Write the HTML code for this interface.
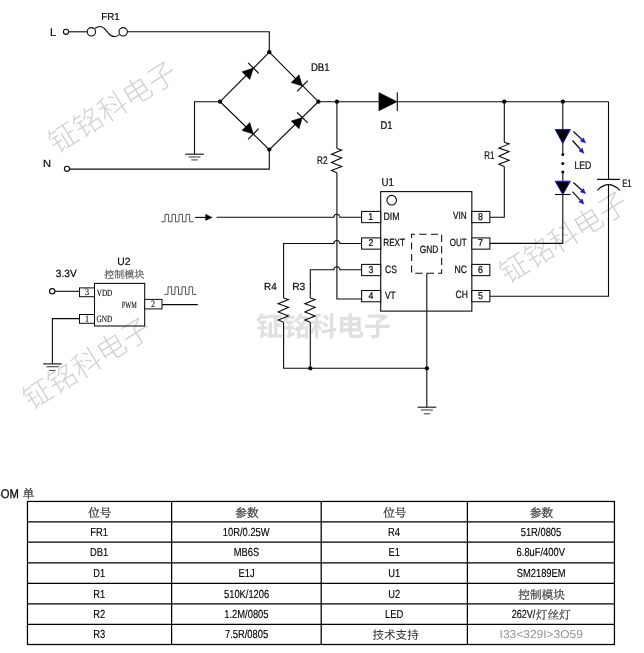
<!DOCTYPE html>
<html><head><meta charset="utf-8"><title>circuit</title>
<style>html,body{margin:0;padding:0;background:#fff;overflow:hidden;}svg{display:block;will-change:transform;}text{font-kerning:none;text-rendering:geometricPrecision;}</style>
</head><body>
<svg width="644" height="653" viewBox="0 0 644 653">
<rect width="644" height="653" fill="#fff"/>
<text transform="translate(111.7,107.65) rotate(-31.8) translate(-71.5,10.26)" font-family="'Liberation Sans','Noto Sans CJK SC',sans-serif" font-size="29" font-weight="300" fill="#d3d3d3">钲铭科电子</text>
<text transform="translate(86,364) rotate(-31.8) translate(-71.5,10.26)" font-family="'Liberation Sans','Noto Sans CJK SC',sans-serif" font-size="29" font-weight="300" fill="#d3d3d3">钲铭科电子</text>
<text transform="translate(562.7,238.1) rotate(-31.8) translate(-71.5,10.26)" font-family="'Liberation Sans','Noto Sans CJK SC',sans-serif" font-size="29" font-weight="300" fill="#d3d3d3">钲铭科电子</text>
<text transform="translate(255.95,335.9)" font-family="'Liberation Sans','Noto Sans CJK SC',sans-serif" font-size="27" font-weight="bold" fill="#e0e0e0">钲铭科电子</text>
<text transform="translate(49.99,35.8) scale(1.0103,1)" font-family="'Liberation Sans'" font-size="11" fill="#0a0a0a" stroke="#0a0a0a" stroke-width="0.22" >L</text>
<circle cx="66" cy="31.8" r="2.6" fill="none" stroke="#0a0a0a" stroke-width="1.1"/>
<line x1="68.6" y1="31.8" x2="87.2" y2="31.8" stroke="#0a0a0a" stroke-width="1.1" />
<circle cx="91.4" cy="31.8" r="4.2" fill="none" stroke="#0a0a0a" stroke-width="1.1"/>
<circle cx="123.2" cy="31.8" r="4.2" fill="none" stroke="#0a0a0a" stroke-width="1.1"/>
<path d="M95 28.2 C96.7 27 98.3 26.5 99.9 26.5 C104 26.5 105.2 29.6 107.1 31.6 C109.1 33.7 110.4 36.6 114.2 36.6 C116 36.6 117.9 35.8 119.5 34.6" fill="none" stroke="#0a0a0a" stroke-width="1.1" />
<text transform="translate(101.2,20.1) scale(0.9629,1)" font-family="'Liberation Sans'" font-size="10.1" fill="#0a0a0a" stroke="#0a0a0a" stroke-width="0.22" >FR1</text>
<path d="M127.4 31.8 L269.3 31.8 L269.3 52.2" fill="none" stroke="#0a0a0a" stroke-width="1.1" />
<text transform="translate(43.09,167.4) scale(1.0776,1)" font-family="'Liberation Sans'" font-size="10.3" fill="#0a0a0a" stroke="#0a0a0a" stroke-width="0.22" >N</text>
<circle cx="67" cy="168.8" r="2.6" fill="none" stroke="#0a0a0a" stroke-width="1.1"/>
<path d="M69.6 169.15 L269.3 169.15 L269.3 149.6" fill="none" stroke="#0a0a0a" stroke-width="1.1" />
<path d="M269.3 52.2 L318.4 101.7 L269.3 149.6 L220.1 101.7 Z" fill="none" stroke="#0a0a0a" stroke-width="1.15" />
<circle cx="269.3" cy="52.2" r="2.15" fill="#000"/>
<circle cx="220.1" cy="101.7" r="2.15" fill="#000"/>
<circle cx="318.4" cy="101.7" r="2.15" fill="#000"/>
<circle cx="269.3" cy="149.6" r="2.15" fill="#000"/>
<path d="M249.79 79.49 L242.01 71.71 L253.4 68.1 Z" fill="#000" stroke="#000" stroke-width="0.5" />
<line x1="258.7" y1="73.4" x2="248.1" y2="62.8" stroke="#0a0a0a" stroke-width="1.2" />
<path d="M291.21 82.59 L298.99 74.81 L302.4 86 Z" fill="#000" stroke="#000" stroke-width="0.5" />
<line x1="297.1" y1="91.3" x2="307.7" y2="80.7" stroke="#0a0a0a" stroke-width="1.2" />
<path d="M242.01 130.39 L249.79 122.61 L253.4 134 Z" fill="#000" stroke="#000" stroke-width="0.5" />
<line x1="248.1" y1="139.3" x2="258.7" y2="128.7" stroke="#0a0a0a" stroke-width="1.2" />
<path d="M298.99 128.79 L291.21 121.01 L302.4 117.6 Z" fill="#000" stroke="#000" stroke-width="0.5" />
<line x1="307.7" y1="122.9" x2="297.1" y2="112.3" stroke="#0a0a0a" stroke-width="1.2" />
<text transform="translate(310.91,70.9) scale(0.8718,1)" font-family="'Liberation Sans'" font-size="11" fill="#0a0a0a" stroke="#0a0a0a" stroke-width="0.22" >DB1</text>
<path d="M220.1 101.7 L194.5 101.7 L194.5 154.2" fill="none" stroke="#0a0a0a" stroke-width="1.1" />
<line x1="185.2" y1="154.2" x2="203.8" y2="154.2" stroke="#222" stroke-width="1.2" />
<line x1="188.5" y1="157" x2="200.5" y2="157" stroke="#555" stroke-width="1.2" />
<line x1="191.3" y1="159.9" x2="197.7" y2="159.9" stroke="#555" stroke-width="1.2" />
<line x1="318.4" y1="101.7" x2="378.9" y2="101.7" stroke="#0a0a0a" stroke-width="1.1" />
<circle cx="336.9" cy="101.7" r="2.15" fill="#000"/>
<path d="M378.9 92.6 L378.9 110.8 L397.2 101.7 Z" fill="#000" stroke="#000" stroke-width="0.5" />
<line x1="397.3" y1="92.3" x2="397.3" y2="111.1" stroke="#0a0a0a" stroke-width="1.1" />
<line x1="397.3" y1="101.7" x2="608.5" y2="101.7" stroke="#0a0a0a" stroke-width="1.1" />
<text transform="translate(380.43,128.8) scale(0.8404,1)" font-family="'Liberation Sans'" font-size="11.2" fill="#0a0a0a" stroke="#0a0a0a" stroke-width="0.22" >D1</text>
<circle cx="504.3" cy="101.7" r="2.15" fill="#000"/>
<circle cx="562.8" cy="101.7" r="2.15" fill="#000"/>
<line x1="336.9" y1="101.7" x2="336.9" y2="148.5" stroke="#0a0a0a" stroke-width="1.1" />
<path d="M336.9 148.5 L341.7 150.1 L331.5 154.3 L341.7 157.8 L331.5 162.5 L341.7 166.4 L331.5 170.4 L336.9 172.7" fill="none" stroke="#0a0a0a" stroke-width="1.1" stroke-linejoin="miter"/>
<path d="M336.9 172.7 L336.9 299 L361.8 299" fill="none" stroke="#0a0a0a" stroke-width="1.1" />
<text transform="translate(317.03,163.65) scale(0.7417,1)" font-family="'Liberation Sans'" font-size="11" fill="#0a0a0a" stroke="#0a0a0a" stroke-width="0.22" >R2</text>
<line x1="504.3" y1="101.7" x2="504.3" y2="142.3" stroke="#0a0a0a" stroke-width="1.1" />
<path d="M504.3 142.3 L509.1 143.9 L498.9 148.1 L509.1 151.6 L498.9 156.3 L509.1 160.2 L498.9 164.2 L504.3 166.5" fill="none" stroke="#0a0a0a" stroke-width="1.1" stroke-linejoin="miter"/>
<path d="M504.3 166.5 L504.3 217.2 L489.8 217.2" fill="none" stroke="#0a0a0a" stroke-width="1.1" />
<text transform="translate(484.3,158.8) scale(0.7249,1)" font-family="'Liberation Sans'" font-size="11" fill="#0a0a0a" stroke="#0a0a0a" stroke-width="0.22" >R1</text>
<line x1="562.8" y1="101.7" x2="562.8" y2="129.5" stroke="#0a0a0a" stroke-width="1.1" />
<path d="M555.2 129.5 L570.4 129.5 L562.8 143.5 Z" fill="#000" stroke="#1a1acc" stroke-width="1.0" />
<line x1="562.8" y1="143.5" x2="562.8" y2="154.4" stroke="#0a0a0a" stroke-width="1.1" />
<circle cx="562.8" cy="154.4" r="1.5" fill="#000"/>
<circle cx="562.8" cy="163.6" r="1.5" fill="#000"/>
<circle cx="562.8" cy="172.1" r="1.5" fill="#000"/>
<line x1="562.8" y1="172.1" x2="562.8" y2="181.2" stroke="#0a0a0a" stroke-width="1.1" />
<path d="M555.2 181.2 L570.4 181.2 L562.8 194.5 Z" fill="#000" stroke="#1a1acc" stroke-width="1.0" />
<line x1="555" y1="194.5" x2="570.6" y2="194.5" stroke="#0a0a0a" stroke-width="1.1" />
<line x1="573.4" y1="131.5" x2="581.9" y2="139.45" stroke="#0a0a0a" stroke-width="1.2" />
<path d="M585.7 143 L580.33 141.13 L583.47 137.77 Z" fill="#1a1acc" stroke="#1a1acc" stroke-width="0.4" />
<line x1="572.5" y1="140.5" x2="580.54" y2="149.52" stroke="#0a0a0a" stroke-width="1.2" />
<path d="M584 153.4 L578.82 151.05 L582.26 147.99 Z" fill="#1a1acc" stroke="#1a1acc" stroke-width="0.4" />
<line x1="573.4" y1="182.5" x2="581.86" y2="190.2" stroke="#0a0a0a" stroke-width="1.2" />
<path d="M585.7 193.7 L580.31 191.9 L583.4 188.5 Z" fill="#1a1acc" stroke="#1a1acc" stroke-width="0.4" />
<line x1="572.5" y1="191.7" x2="580.48" y2="200.37" stroke="#0a0a0a" stroke-width="1.2" />
<path d="M584 204.2 L578.79 201.93 L582.17 198.82 Z" fill="#1a1acc" stroke="#1a1acc" stroke-width="0.4" />
<path d="M562.8 194.5 L562.8 243.4 L489.8 243.4" fill="none" stroke="#0a0a0a" stroke-width="1.1" />
<text transform="translate(574.39,168.65) scale(0.7862,1)" font-family="'Liberation Sans'" font-size="11" fill="#0a0a0a" stroke="#0a0a0a" stroke-width="0.22" >LED</text>
<line x1="608.5" y1="101.7" x2="608.5" y2="179.4" stroke="#0a0a0a" stroke-width="1.1" />
<line x1="597" y1="179.4" x2="619.9" y2="179.4" stroke="#0a0a0a" stroke-width="1.2" />
<path d="M597.3 190.4 Q608.5 179 619.9 190.4" fill="none" stroke="#0a0a0a" stroke-width="1.2" />
<path d="M608.5 184.8 L608.5 296.3 L489.8 296.3" fill="none" stroke="#0a0a0a" stroke-width="1.1" />
<text transform="translate(622.17,186.6) scale(0.7055,1)" font-family="'Liberation Sans'" font-size="10.9" fill="#0a0a0a" stroke="#0a0a0a" stroke-width="0.22" >E1</text>
<rect x="380.7" y="191.6" width="91.15" height="119.5" fill="none" stroke="#0a0a0a" stroke-width="1.1" />
<text transform="translate(381.55,185.8) scale(0.8678,1)" font-family="'Liberation Sans'" font-size="11.2" fill="#0a0a0a" stroke="#0a0a0a" stroke-width="0.22" >U1</text>
<circle cx="391.7" cy="200.2" r="4.8" fill="none" stroke="#0a0a0a" stroke-width="1.1"/>
<rect x="361.6" y="211.4" width="19.1" height="11.25" fill="#fff" stroke="#0a0a0a" stroke-width="1.05" />
<rect x="471.85" y="211.4" width="18" height="11.25" fill="#fff" stroke="#0a0a0a" stroke-width="1.05" />
<rect x="361.6" y="237.9" width="19.1" height="11.25" fill="#fff" stroke="#0a0a0a" stroke-width="1.05" />
<rect x="471.85" y="237.9" width="18" height="11.25" fill="#fff" stroke="#0a0a0a" stroke-width="1.05" />
<rect x="361.6" y="264.4" width="19.1" height="11.25" fill="#fff" stroke="#0a0a0a" stroke-width="1.05" />
<rect x="471.85" y="264.4" width="18" height="11.25" fill="#fff" stroke="#0a0a0a" stroke-width="1.05" />
<rect x="361.6" y="290.5" width="19.1" height="11.25" fill="#fff" stroke="#0a0a0a" stroke-width="1.05" />
<rect x="471.85" y="290.5" width="18" height="11.25" fill="#fff" stroke="#0a0a0a" stroke-width="1.05" />
<text transform="translate(383.48,219.75) scale(0.8176,1)" font-family="'Liberation Sans'" font-size="10.7" fill="#0a0a0a" stroke="#0a0a0a" stroke-width="0.22" >DIM</text>
<text transform="translate(383.23,246.15) scale(0.7881,1)" font-family="'Liberation Sans'" font-size="10.4" fill="#0a0a0a" stroke="#0a0a0a" stroke-width="0.22" >REXT</text>
<text transform="translate(385.07,272.75) scale(0.7954,1)" font-family="'Liberation Sans'" font-size="10.7" fill="#0a0a0a" stroke="#0a0a0a" stroke-width="0.22" >CS</text>
<text transform="translate(384.96,299.15) scale(0.7845,1)" font-family="'Liberation Sans'" font-size="10.5" fill="#0a0a0a" stroke="#0a0a0a" stroke-width="0.22" >VT</text>
<text transform="translate(453.11,218.8) scale(0.7801,1)" font-family="'Liberation Sans'" font-size="10.5" fill="#0a0a0a" stroke="#0a0a0a" stroke-width="0.22" >VIN</text>
<text transform="translate(449.67,245.5) scale(0.7608,1)" font-family="'Liberation Sans'" font-size="10.5" fill="#0a0a0a" stroke="#0a0a0a" stroke-width="0.22" >OUT</text>
<text transform="translate(454.39,272.6) scale(0.8116,1)" font-family="'Liberation Sans'" font-size="10.7" fill="#0a0a0a" stroke="#0a0a0a" stroke-width="0.22" >NC</text>
<text transform="translate(455.47,298.4) scale(0.7978,1)" font-family="'Liberation Sans'" font-size="10.7" fill="#0a0a0a" stroke="#0a0a0a" stroke-width="0.22" >CH</text>
<text transform="translate(368.26,219.8) scale(0.8800,1)" font-family="'Liberation Sans'" font-size="9.9" fill="#0a0a0a" stroke="#0a0a0a" stroke-width="0.22">1</text>
<text transform="translate(368.38,246.15) scale(0.8800,1)" font-family="'Liberation Sans'" font-size="9.9" fill="#0a0a0a" stroke="#0a0a0a" stroke-width="0.22">2</text>
<text transform="translate(368.4,272.75) scale(0.8800,1)" font-family="'Liberation Sans'" font-size="9.9" fill="#0a0a0a" stroke="#0a0a0a" stroke-width="0.22">3</text>
<text transform="translate(368.41,299) scale(0.8800,1)" font-family="'Liberation Sans'" font-size="9.9" fill="#0a0a0a" stroke="#0a0a0a" stroke-width="0.22">4</text>
<text transform="translate(478.02,219.75) scale(0.9000,1)" font-family="'Liberation Sans'" font-size="9.9" fill="#0a0a0a" stroke="#0a0a0a" stroke-width="0.22">8</text>
<text transform="translate(478.02,246.15) scale(0.9000,1)" font-family="'Liberation Sans'" font-size="9.9" fill="#0a0a0a" stroke="#0a0a0a" stroke-width="0.22">7</text>
<text transform="translate(477.99,272.75) scale(0.9000,1)" font-family="'Liberation Sans'" font-size="9.9" fill="#0a0a0a" stroke="#0a0a0a" stroke-width="0.22">6</text>
<text transform="translate(478.03,299.15) scale(0.9000,1)" font-family="'Liberation Sans'" font-size="9.9" fill="#0a0a0a" stroke="#0a0a0a" stroke-width="0.22">5</text>
<rect x="411.6" y="234.2" width="30.05" height="39" fill="none" stroke="#0a0a0a" stroke-width="1.05" stroke-dasharray="7.2 4.3" stroke-dashoffset="3.8"/>
<text transform="translate(419.73,253) scale(0.7928,1)" font-family="'Liberation Sans'" font-size="10.6" fill="#0a0a0a" stroke="#0a0a0a" stroke-width="0.22" >GND</text>
<line x1="426.8" y1="273.2" x2="426.8" y2="407.2" stroke="#0a0a0a" stroke-width="1.1" />
<line x1="417.6" y1="407.2" x2="436.2" y2="407.2" stroke="#222" stroke-width="1.2" />
<line x1="420.9" y1="410" x2="432.9" y2="410" stroke="#555" stroke-width="1.2" />
<line x1="423.7" y1="413.8" x2="430.1" y2="413.8" stroke="#555" stroke-width="1.2" />
<circle cx="426.9" cy="368.3" r="2.15" fill="#000"/>
<path d="M216.5 217.3 L333.9 217.3 A3.0 3.0 0 0 1 339.9 217.3 L361.8 217.3" fill="none" stroke="#0a0a0a" stroke-width="1.1" />
<path d="M283.6 298 L283.6 243.5 L333.9 243.5 A3.0 3.0 0 0 1 339.9 243.5 L361.8 243.5" fill="none" stroke="#0a0a0a" stroke-width="1.1" />
<path d="M283.6 298 L288.4 299.6 L278.2 303.8 L288.4 307.3 L278.2 312 L288.4 315.9 L278.2 319.9 L283.6 322.2" fill="none" stroke="#0a0a0a" stroke-width="1.1" stroke-linejoin="miter"/>
<path d="M310.3 298 L310.3 269.7 L333.9 269.7 A3.0 3.0 0 0 1 339.9 269.7 L361.8 269.7" fill="none" stroke="#0a0a0a" stroke-width="1.1" />
<path d="M310.3 298 L315.1 299.6 L304.9 303.8 L315.1 307.3 L304.9 312 L315.1 315.9 L304.9 319.9 L310.3 322.2" fill="none" stroke="#0a0a0a" stroke-width="1.1" stroke-linejoin="miter"/>
<path d="M283.6 322.2 L283.6 368.3 L426.9 368.3" fill="none" stroke="#0a0a0a" stroke-width="1.1" />
<line x1="310.3" y1="322.2" x2="310.3" y2="368.3" stroke="#0a0a0a" stroke-width="1.1" />
<circle cx="310.3" cy="368.3" r="2.15" fill="#000"/>
<text transform="translate(264.04,289.5) scale(0.9567,1)" font-family="'Liberation Sans'" font-size="10.3" fill="#0a0a0a" stroke="#0a0a0a" stroke-width="0.22" >R4</text>
<text transform="translate(292.16,289.5) scale(0.9942,1)" font-family="'Liberation Sans'" font-size="10.3" fill="#0a0a0a" stroke="#0a0a0a" stroke-width="0.22" >R3</text>
<path d="M161.3 221.8 L165 221.8 L165 214.4 L168.6 214.4 L168.6 221.8 L172 221.8 L172 214.4 L175.5 214.4 L175.5 221.8 L179 221.8 L179 214.4 L182.5 214.4 L182.5 221.8 L186 221.8 L186 214.4 L189.6 214.4 L189.6 221.8 L193.5 221.8" fill="none" stroke="#555" stroke-width="1.0" />
<line x1="195.2" y1="217.4" x2="206" y2="217.4" stroke="#0a0a0a" stroke-width="1.1" />
<path d="M205.6 214.3 L212.2 217.4 L205.6 220.5 Z" fill="#000" stroke="#000" stroke-width="0.4" />
<rect x="94.5" y="283.4" width="50.2" height="42.6" fill="none" stroke="#0a0a0a" stroke-width="1.05" />
<text transform="translate(117.2,264.8) scale(0.9848,1)" font-family="'Liberation Sans'" font-size="10.5" fill="#0a0a0a" stroke="#0a0a0a" stroke-width="0.22" >U2</text>
<text transform="translate(104.2,278)" font-family="'Liberation Serif','Noto Serif CJK SC',serif" font-size="10" fill="#555" stroke="#555" stroke-width="0.2">控制模块</text>
<text transform="translate(55.81,277) scale(0.9644,1)" font-family="'Liberation Sans'" font-size="10.5" fill="#0a0a0a" stroke="#0a0a0a" stroke-width="0.22" >3.3V</text>
<circle cx="52.2" cy="291.3" r="2.7" fill="none" stroke="#0a0a0a" stroke-width="1.1"/>
<line x1="54.9" y1="291.3" x2="79.5" y2="291.3" stroke="#0a0a0a" stroke-width="1.1" />
<rect x="79.5" y="287.9" width="15" height="8.8" fill="#fff" stroke="#0a0a0a" stroke-width="1.0" />
<rect x="79.5" y="314.5" width="15" height="8.8" fill="#fff" stroke="#0a0a0a" stroke-width="1.0" />
<rect x="144.7" y="299.4" width="17.3" height="9.5" fill="#fff" stroke="#0a0a0a" stroke-width="1.0" />
<text transform="translate(85.02,295.2) scale(0.8500,1)" font-family="'Liberation Serif'" font-size="9.6" fill="#0a0a0a" stroke="#0a0a0a" stroke-width="0.12">3</text>
<text transform="translate(84.95,321.6) scale(0.8500,1)" font-family="'Liberation Serif'" font-size="9.6" fill="#0a0a0a" stroke="#0a0a0a" stroke-width="0.12">1</text>
<text transform="translate(151.01,306.8) scale(0.8500,1)" font-family="'Liberation Serif'" font-size="9.6" fill="#0a0a0a" stroke="#0a0a0a" stroke-width="0.12">2</text>
<text transform="translate(96.72,295.5) scale(0.7485,1)" font-family="'Liberation Serif'" font-size="9.6" fill="#0a0a0a" stroke="#0a0a0a" stroke-width="0.12" >VDD</text>
<text transform="translate(96.5,321.5) scale(0.7592,1)" font-family="'Liberation Serif'" font-size="9.6" fill="#0a0a0a" stroke="#0a0a0a" stroke-width="0.12" >GND</text>
<text transform="translate(121.82,307.8) scale(0.6524,1)" font-family="'Liberation Serif'" font-size="9.6" fill="#0a0a0a" stroke="#0a0a0a" stroke-width="0.12" >PWM</text>
<path d="M79.5 318.6 L52.4 318.6 L52.4 363.9" fill="none" stroke="#0a0a0a" stroke-width="1.1" />
<line x1="43.1" y1="363.9" x2="61.7" y2="363.9" stroke="#222" stroke-width="1.2" />
<line x1="46.4" y1="366.7" x2="58.4" y2="366.7" stroke="#555" stroke-width="1.2" />
<line x1="49.2" y1="370.5" x2="55.6" y2="370.5" stroke="#555" stroke-width="1.2" />
<line x1="162" y1="304.6" x2="197.8" y2="304.6" stroke="#0a0a0a" stroke-width="1.1" />
<path d="M164.3 294.4 L168 294.4 L168 286.8 L171.6 286.8 L171.6 294.4 L175 294.4 L175 286.8 L178.5 286.8 L178.5 294.4 L182 294.4 L182 286.8 L185.5 286.8 L185.5 294.4 L189 294.4 L189 286.8 L192.6 286.8 L192.6 294.4 L196.5 294.4" fill="none" stroke="#555" stroke-width="1.0" />
<rect x="27.45" y="501.45" width="587" height="143.05" fill="none" stroke="#000" stroke-width="1.25" />
<line x1="171.6" y1="501.45" x2="171.6" y2="644.5" stroke="#000" stroke-width="1.25" />
<line x1="321.2" y1="501.45" x2="321.2" y2="644.5" stroke="#000" stroke-width="1.25" />
<line x1="467.4" y1="501.45" x2="467.4" y2="644.5" stroke="#000" stroke-width="1.25" />
<line x1="27.45" y1="521.8" x2="614.45" y2="521.8" stroke="#000" stroke-width="1.25" />
<line x1="27.45" y1="542.2" x2="614.45" y2="542.2" stroke="#000" stroke-width="1.25" />
<line x1="27.45" y1="562.9" x2="614.45" y2="562.9" stroke="#000" stroke-width="1.25" />
<line x1="27.45" y1="583.4" x2="614.45" y2="583.4" stroke="#000" stroke-width="1.25" />
<line x1="27.45" y1="603.8" x2="614.45" y2="603.8" stroke="#000" stroke-width="1.25" />
<line x1="27.45" y1="624.3" x2="614.45" y2="624.3" stroke="#000" stroke-width="1.25" />
<text transform="translate(-6.82,497.8) scale(0.8936,1)" font-family="'Liberation Sans'" font-size="12.6" fill="#0a0a0a" stroke="#0a0a0a" stroke-width="0.3" >BOM</text>
<text transform="translate(22.4,497.6)" font-family="'Liberation Serif','Noto Serif CJK SC',serif" font-size="11.8" fill="#3a3a3a" stroke="#3a3a3a" stroke-width="0.3">单</text>
<text transform="translate(88.2,516.85)" font-family="'Liberation Serif','Noto Serif CJK SC',serif" font-size="11.6" fill="#3c3c3c" stroke="#3c3c3c" stroke-width="0.3">位号</text>
<text transform="translate(235.35,516.85)" font-family="'Liberation Serif','Noto Serif CJK SC',serif" font-size="11.6" fill="#3c3c3c" stroke="#3c3c3c" stroke-width="0.3">参数</text>
<text transform="translate(383.2,516.85)" font-family="'Liberation Serif','Noto Serif CJK SC',serif" font-size="11.6" fill="#3c3c3c" stroke="#3c3c3c" stroke-width="0.3">位号</text>
<text transform="translate(530,516.85)" font-family="'Liberation Serif','Noto Serif CJK SC',serif" font-size="11.6" fill="#3c3c3c" stroke="#3c3c3c" stroke-width="0.3">参数</text>
<text transform="translate(90.3,535.9) scale(0.8000,1)" font-family="'Liberation Sans'" font-size="11.7" fill="#000" stroke="#000" stroke-width="0.15">FR1</text>
<text transform="translate(90.04,556.3) scale(0.8000,1)" font-family="'Liberation Sans'" font-size="11.7" fill="#000" stroke="#000" stroke-width="0.15">DB1</text>
<text transform="translate(93.16,577) scale(0.8000,1)" font-family="'Liberation Sans'" font-size="11.7" fill="#000" stroke="#000" stroke-width="0.15">D1</text>
<text transform="translate(93.16,597.5) scale(0.8000,1)" font-family="'Liberation Sans'" font-size="11.7" fill="#000" stroke="#000" stroke-width="0.15">R1</text>
<text transform="translate(93.17,617.9) scale(0.8000,1)" font-family="'Liberation Sans'" font-size="11.7" fill="#000" stroke="#000" stroke-width="0.15">R2</text>
<text transform="translate(93.14,638.4) scale(0.8000,1)" font-family="'Liberation Sans'" font-size="11.7" fill="#000" stroke="#000" stroke-width="0.15">R3</text>
<text transform="translate(222.85,535.9) scale(0.8000,1)" font-family="'Liberation Sans'" font-size="11.7" fill="#000" stroke="#000" stroke-width="0.15">10R/0.25W</text>
<text transform="translate(233.69,556.3) scale(0.8000,1)" font-family="'Liberation Sans'" font-size="11.7" fill="#000" stroke="#000" stroke-width="0.15">MB6S</text>
<text transform="translate(238.5,577) scale(0.8000,1)" font-family="'Liberation Sans'" font-size="11.7" fill="#000" stroke="#000" stroke-width="0.15">E1J</text>
<text transform="translate(223.98,597.5) scale(0.8000,1)" font-family="'Liberation Sans'" font-size="11.7" fill="#000" stroke="#000" stroke-width="0.15">510K/1206</text>
<text transform="translate(224.32,617.9) scale(0.8000,1)" font-family="'Liberation Sans'" font-size="11.7" fill="#000" stroke="#000" stroke-width="0.15">1.2M/0805</text>
<text transform="translate(224.96,638.4) scale(0.8000,1)" font-family="'Liberation Sans'" font-size="11.7" fill="#000" stroke="#000" stroke-width="0.15">7.5R/0805</text>
<text transform="translate(388.07,535.9) scale(0.8000,1)" font-family="'Liberation Sans'" font-size="11.7" fill="#000" stroke="#000" stroke-width="0.15">R4</text>
<text transform="translate(388.42,556.3) scale(0.8000,1)" font-family="'Liberation Sans'" font-size="11.7" fill="#000" stroke="#000" stroke-width="0.15">E1</text>
<text transform="translate(388.18,577) scale(0.8000,1)" font-family="'Liberation Sans'" font-size="11.7" fill="#000" stroke="#000" stroke-width="0.15">U1</text>
<text transform="translate(388.19,597.5) scale(0.8000,1)" font-family="'Liberation Sans'" font-size="11.7" fill="#000" stroke="#000" stroke-width="0.15">U2</text>
<text transform="translate(385.04,617.9) scale(0.8000,1)" font-family="'Liberation Sans'" font-size="11.7" fill="#000" stroke="#000" stroke-width="0.15">LED</text>
<text transform="translate(520.71,535.9) scale(0.8000,1)" font-family="'Liberation Sans'" font-size="11.7" fill="#000" stroke="#000" stroke-width="0.15">51R/0805</text>
<text transform="translate(516.59,556.3) scale(0.8000,1)" font-family="'Liberation Sans'" font-size="11.7" fill="#000" stroke="#000" stroke-width="0.15">6.8uF/400V</text>
<text transform="translate(516.72,577) scale(0.8000,1)" font-family="'Liberation Sans'" font-size="11.7" fill="#000" stroke="#000" stroke-width="0.15">SM2189EM</text>
<text transform="translate(511.64,617.9) scale(0.7770,1)" font-family="'Liberation Sans'" font-size="11.7" fill="#000" stroke="#000" stroke-width="0.15" >262V/</text>
<text transform="translate(518.23,598.7)" font-family="'Liberation Serif','Noto Serif CJK SC',serif" font-size="11.7" fill="#3c3c3c" stroke="#3c3c3c" stroke-width="0.2">控制模块</text>
<text transform="translate(535.8,619)" font-family="'Liberation Serif','Noto Serif CJK SC',serif" font-size="11.6" fill="#3c3c3c" stroke="#3c3c3c" stroke-width="0.2">灯丝灯</text>
<text transform="translate(372.4,638.7)" font-family="'Liberation Sans','Noto Sans CJK SC',sans-serif" font-size="11.6" fill="#303030">技术支持</text>
<text transform="translate(499.59,637.9) scale(1.0509,1)" font-family="'Liberation Sans'" font-size="11.4" fill="#939393" stroke="#939393" stroke-width="0" >I33&lt;329I&gt;3O59</text>
</svg>
</body></html>
